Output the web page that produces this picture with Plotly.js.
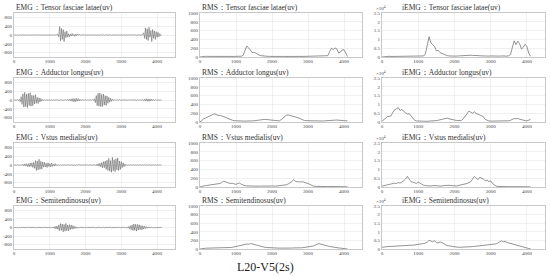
<!DOCTYPE html>
<html><head><meta charset="utf-8">
<script src="https://cdn.plot.ly/plotly-3.0.1.min.js"></script>
<style>html,body{margin:0;padding:0;background:#fff}#c{width:550px;height:276px}</style>
</head><body><div id="c"></div>
<script>
// Muscles (rows)
const muscles = ["Tensor fasciae latae(uv)", "Adductor longus(uv)", "Vstus medialis(uv)", "Semitendinosus(uv)"];
const kinds = ["EMG", "RMS", "iEMG"];
const figTitle = "L20-V5(2s)";
const emgStep = 25;   // sample spacing of raw EMG arrays
const envStep = 50;   // sample spacing of RMS / iEMG arrays

// Raw EMG (uV), one value per 25 samples starting at 0
const emgTFL = [5,-8,12,-10,6,-14,9,-7,11,-12,8,-6,13,-9,7,-11,10,-8,6,-13,9,-10,12,-7,8,-11,10,-9,14,-6,7,-12,9,-8,11,-10,6,-13,8,-9,12,-7,10,-11,7,-9,13,-8,20,
 40,-80,380,-260,300,-200,250,-300,150,-120,180,-100,
 60,-80,40,-50,70,-40,30,-60,40,-30,50,-20,30,
 -9,8,-11,10,-7,12,-8,6,-10,9,-12,7,-8,11,-6,10,-9,8,-13,7,9,-10,6,-8,12,-7,10,-11,8,-6,11,-9,7,-12,9,-8,10,-7,13,-10,6,-9,11,-8,7,-12,10,-6,9,-11,8,-7,12,-9,6,-10,11,-8,7,-13,9,-6,10,-11,8,-7,12,-9,7,-10,15,
 100,-150,320,-200,280,-250,350,-100,200,-300,250,-150,180,-200,150,-100,120,-80,60,-30,15];
const emgAL = [6,-9,12,-8,20,-25,30,
 -80,150,-200,280,-320,350,-300,260,-340,300,-250,330,-280,220,-260,200,-180,240,-150,120,-160,100,-90,70,-50,
 20,-15,12,-10,14,-9,11,-13,8,-12,10,-9,13,-11,7,-10,12,-8,9,-14,11,-7,10,-12,8,-9,13,-10,
 25,-30,40,-35,50,-60,70,-80,60,-75,80,-50,60,-40,30,-25,20,
 -12,10,-9,14,-11,8,-10,12,-8,11,-9,15,-20,
 60,-120,200,-260,300,-280,320,-300,250,-290,270,-230,200,-250,180,-150,120,-100,80,-60,40,
 -20,15,-12,10,-14,9,-11,13,-8,12,-10,9,-13,11,-7,10,-12,8,-9,14,-11,7,-10,12,-8,9,-13,10,-12,8,-11,9,-10,12,
 -30,40,-50,60,-55,45,-60,50,-40,35,-30,25,-20,
 15,-12,10,-14,9,-11,8,-5];
const emgVM = [5,-8,10,-7,9,-11,8,-10,12,-9,
 30,-40,50,-45,60,-70,55,-80,90,-70,100,-110,120,
 -150,200,-250,180,-220,260,-200,170,-180,140,
 -100,120,-90,80,-110,100,-70,60,-80,90,-60,50,-40,60,-30,20,
 -12,10,-9,14,-11,8,-10,12,-8,11,-9,13,-7,10,-12,9,-8,11,-10,7,-13,9,-8,12,-10,6,-11,9,-7,12,-9,10,-8,11,-12,7,-9,10,-11,8,-10,12,-15,
 30,-40,60,-50,80,-90,110,-130,150,-120,180,-200,220,
 -250,300,-280,200,-330,350,-260,240,-300,280,-220,320,-250,180,-200,150,-120,100,-80,50,
 -25,20,-15,12,-10,14,-9,11,-13,8,-12,10,-9,13,-11,7,-10,12,-8,9,-14,11,-7,10,-12,8,-9,13,-10,7,-11,9,-8,12,-10,8,-9,11,-7,6,-4];
const emgST = [6,-9,12,-8,10,-11,7,-13,9,-10,12,-7,8,-11,10,-9,14,-6,7,-12,9,-8,11,-10,6,-13,8,-9,12,-7,10,-11,7,-9,13,-8,10,-12,15,-14,18,-16,20,-22,
 30,-40,50,-60,70,
 -90,120,-150,180,-130,160,-200,140,-170,190,-150,120,-160,130,-100,110,-80,90,-60,50,
 -40,30,-35,25,-20,18,-15,12,
 -10,9,-12,8,-11,10,-7,13,-9,11,-8,12,-10,7,-13,9,-8,11,-10,6,-12,10,-9,13,-7,8,-11,12,-9,10,-8,14,-11,7,-10,12,-9,8,-13,10,-7,11,-12,9,-8,13,-10,15,-18,20,
 -30,40,-60,80,-100,120,-140,160,-130,150,-170,140,-120,130,-100,90,-110,80,-70,60,-50,40,-35,30,-25,
 20,-15,12,-10,9,-11,8,-10,7,-9,8,-6,5,-3];

// RMS (uV), one value per 50 samples starting at 0
const rmsTFL = [0,10,12,15,14,13,15,14,12,13,15,14,13,12,14,15,13,12,14,13,15,14,16,18,
 40,150,250,210,140,100,110,85,55,40,30,22,18,
 15,14,13,15,14,12,13,15,14,13,12,14,15,13,12,14,13,15,14,12,13,15,14,13,12,14,15,13,12,14,13,15,14,16,
 30,120,200,170,205,185,90,110,160,165,70,10];
const rmsAL = [0,40,70,90,110,140,160,180,185,170,150,150,140,130,110,90,70,50,
 40,30,25,22,20,20,22,20,18,20,22,25,28,30,
 35,40,50,55,60,55,50,40,30,25,
 22,20,25,50,90,
 130,155,160,150,140,135,120,110,90,70,50,
 35,30,28,25,22,20,22,20,18,20,22,25,28,
 32,40,48,55,50,45,40,35,30,28,30,25];
const rmsVM = [0,20,25,30,35,40,45,50,60,65,
 70,80,100,130,120,100,90,80,
 85,70,60,80,90,60,40,30,
 25,22,20,18,20,22,20,18,20,22,25,22,20,18,20,22,20,25,28,30,35,40,50,
 70,90,120,170,130,120,110,115,120,100,90,80,60,35,20,
 15,12,10,10,12,10,8,10,12,10,8,10,12,10,8,10,8,6,4];
const rmsST = [0,10,15,18,20,20,22,20,18,20,22,25,22,20,25,28,30,35,40,50,
 60,70,80,90,100,120,115,110,125,120,100,95,85,70,60,50,
 40,35,30,28,25,22,20,22,20,18,20,22,20,18,20,22,25,22,20,25,28,30,35,40,45,50,60,
 70,90,110,125,115,100,90,80,70,60,50,
 40,35,30,25,20,15,10,5,0];

// iEMG (x10^4), one value per 50 samples starting at 0
const iemgScale = "×10<sup>4</sup>";
const iemTFL = [0,0.02,0.03,0.03,0.04,0.03,0.03,0.04,0.03,0.03,0.04,0.03,0.03,0.04,0.03,0.03,0.04,0.03,0.03,0.04,0.03,0.04,0.05,0.06,
 0.2,0.6,1.15,0.8,0.72,0.6,0.35,0.38,0.25,0.2,0.15,0.1,0.08,
 0.06,0.05,0.05,0.06,0.05,0.06,0.07,0.08,0.09,0.1,0.09,0.1,0.1,0.09,0.1,0.09,0.08,0.07,0.06,0.05,0.06,0.05,0.05,0.06,0.05,0.05,0.06,0.05,0.05,0.06,0.05,0.06,0.05,0.07,
 0.15,0.55,0.92,0.7,0.9,0.75,0.45,0.55,0.72,0.6,0.22,0.04];
const iemAL = [0.05,0.15,0.25,0.3,0.32,0.35,0.55,0.7,0.75,0.82,0.65,0.72,0.6,0.5,0.45,0.48,0.35,0.2,
 0.1,0.06,0.05,0.05,0.04,0.05,0.05,0.04,0.05,0.05,0.06,0.07,0.08,0.1,
 0.12,0.15,0.18,0.2,0.22,0.18,0.15,0.12,0.1,0.09,
 0.08,0.08,0.1,0.2,0.35,
 0.5,0.62,0.55,0.5,0.58,0.48,0.45,0.4,0.35,0.3,0.15,
 0.08,0.06,0.05,0.05,0.04,0.05,0.05,0.04,0.05,0.05,0.06,0.06,0.07,
 0.1,0.15,0.2,0.18,0.2,0.16,0.12,0.1,0.08,0.06,0.1,0.15];
const iemVM = [0.05,0.08,0.1,0.12,0.15,0.18,0.2,0.22,0.2,0.25,
 0.22,0.28,0.35,0.45,0.6,0.45,0.3,0.28,
 0.25,0.2,0.28,0.22,0.15,0.1,0.08,0.06,
 0.05,0.06,0.08,0.1,0.08,0.06,0.05,0.06,0.08,0.1,0.12,0.1,0.08,0.06,0.05,0.06,0.08,0.1,0.12,0.15,0.18,0.2,0.25,
 0.3,0.45,0.6,0.5,0.42,0.55,0.5,0.45,0.35,0.4,0.3,0.35,0.2,0.1,0.05,
 0.03,0.02,0.02,0.02,0.02,0.02,0.02,0.02,0.02,0.02,0.02,0.02,0.02,0.02,0.02,0.02,0.02,0.02,0.01];
const iemST = [0.1,0.12,0.13,0.14,0.15,0.15,0.16,0.17,0.17,0.18,0.18,0.19,0.2,0.2,0.2,0.21,0.22,0.22,0.23,0.25,
 0.26,0.28,0.3,0.32,0.35,0.4,0.5,0.45,0.42,0.48,0.38,0.35,0.4,0.38,0.3,0.25,
 0.2,0.18,0.15,0.12,0.12,0.11,0.1,0.1,0.1,0.1,0.11,0.12,0.12,0.13,0.14,0.15,0.16,0.17,0.18,0.19,0.2,0.2,0.21,0.22,0.23,0.25,0.28,
 0.3,0.35,0.4,0.48,0.42,0.45,0.38,0.35,0.3,0.28,0.25,
 0.22,0.2,0.18,0.15,0.12,0.1,0.06,0.03,0.02];

const xTicks = [0,1000,2000,3000,4000];
const emgTicks = [-800,-400,0,400,800];
const rmsTicks = [0,200,400,600,800,1000];
const iemTicks = [0,0.5,1,1.5,2,2.5];

const emgData = [emgTFL, emgAL, emgVM, emgST];
const rmsData = [rmsTFL, rmsAL, rmsVM, rmsST];
const iemData = [iemTFL, iemAL, iemVM, iemST];

// layout geometry (pixels)
const W = 550, H = 276;
const colPx = [[14,175],[200,362],[382,545]];
const rowPx = [[13,57],[78,122],[143,187],[206,249]];

const traces = [];
const layout = {
  width: W, height: H, margin: {l:0,r:0,t:0,b:0},
  paper_bgcolor: "#fff", plot_bgcolor: "#fff", showlegend: false,
  font: {family: "Liberation Serif, Times New Roman, serif", color: "#333", size: 5},
  annotations: []
};

for (let r = 0; r < 4; r++) {
  for (let c = 0; c < 3; c++) {
    const k = r*3 + c + 1;
    const xa = "x" + (k === 1 ? "" : k), ya = "y" + (k === 1 ? "" : k);
    const series = c === 0 ? emgData[r] : (c === 1 ? rmsData[r] : iemData[r]);
    const step = c === 0 ? emgStep : envStep;
    traces.push({
      type: "scatter", mode: "lines", y: series, x0: 0, dx: step,
      xaxis: xa, yaxis: ya,
      line: {color: c === 0 ? "#555" : "#666", width: c === 0 ? 0.5 : 0.7},
      hoverinfo: "skip"
    });
    const common = {
      showline: true, mirror: true, linecolor: "#c8c8c8", linewidth: 1,
      showgrid: true, gridcolor: "#e6e6e6", gridwidth: 0.6,
      zeroline: false, ticks: "", tickfont: {size: 5, color: "#444"},
      fixedrange: true
    };
    layout["xaxis" + (k === 1 ? "" : k)] = Object.assign({}, common, {
      domain: [colPx[c][0]/W, colPx[c][1]/W], anchor: ya,
      range: [0, 4500], tickvals: xTicks, ticktext: xTicks.map(String),
      ticklabelstandoff: -1
    });
    let yr, yt;
    if (c === 0) { yr = [-1000, 1000]; yt = emgTicks; }
    else if (c === 1) { yr = [0, 1000]; yt = rmsTicks; }
    else { yr = [0, 2.5]; yt = iemTicks; }
    layout["yaxis" + (k === 1 ? "" : k)] = Object.assign({}, common, {
      domain: [1 - rowPx[r][1]/H, 1 - rowPx[r][0]/H], anchor: xa,
      range: yr, tickvals: yt, ticktext: yt.map(String)
    });
    // subplot title
    const tx = c === 2 ? 400 : colPx[c][0];
    layout.annotations.push({
      xref: "paper", yref: "paper", x: tx/W, y: 1 - (rowPx[r][0]-5.5)/H,
      xanchor: "left", yanchor: "middle", showarrow: false,
      text: kinds[c] + "：" + muscles[r],
      font: {size: 7.5, color: "#333"}
    });
    if (c === 2) {
      layout.annotations.push({
        xref: "paper", yref: "paper", x: 374/W, y: 1 - (rowPx[r][0]-5)/H,
        xanchor: "left", yanchor: "middle", showarrow: false,
        text: iemgScale, font: {size: 5, color: "#444"}
      });
    }
  }
}
layout.annotations.push({
  xref: "paper", yref: "paper", x: 265/W, y: 1 - 267/H,
  xanchor: "center", yanchor: "middle", showarrow: false,
  text: figTitle, font: {size: 12, color: "#222"}
});

Plotly.newPlot("c", traces, layout, {staticPlot: true, displayModeBar: false});
</script>
</body></html>
